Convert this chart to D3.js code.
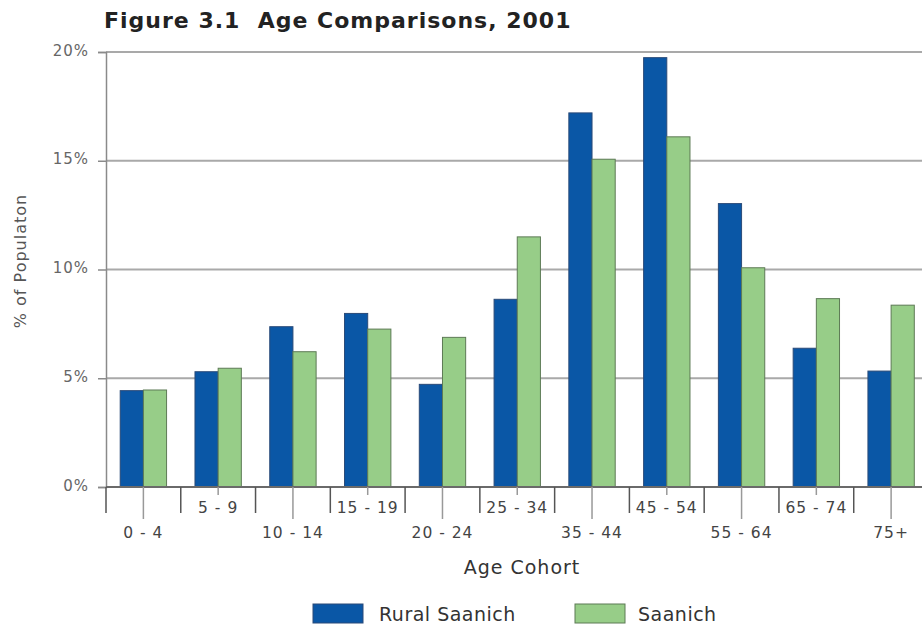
<!DOCTYPE html>
<html>
<head>
<meta charset="utf-8">
<script src="https://cdn.jsdelivr.net/npm/d3@7"></script>
<style>
  html, body { margin: 0; padding: 0; background: #fff; }
  svg { display: block; font-family: "DejaVu Sans", Verdana, sans-serif; }
</style>
</head>
<body>
<svg id="chart" width="922" height="625"></svg>
<script>
// Age cohorts and the share of population (%) in each, 2001
const cohorts = ["0 - 4", "5 - 9", "10 - 14", "15 - 19", "20 - 24", "25 - 34",
                 "35 - 44", "45 - 54", "55 - 64", "65 - 74", "75+"];
const seriesNames = ["Rural Saanich", "Saanich"];
const ruralSaanich = [4.43, 5.30, 7.37, 7.98, 4.72, 8.63, 17.20, 19.74, 13.03, 6.38, 5.33];
const saanich      = [4.46, 5.46, 6.22, 7.26, 6.88, 11.50, 15.07, 16.10, 10.08, 8.66, 8.36];
const yTicks = [0, 5, 10, 15, 20];

const colors = { "Rural Saanich": "#0a57a6", "Saanich": "#97cd88" };

const rows = cohorts.map((c, i) => ({ cohort: c, values: [
  { key: "Rural Saanich", value: ruralSaanich[i] },
  { key: "Saanich", value: saanich[i] }
]}));

const svg = d3.select("#chart");
const plotLeft = 106, plotRight = 928.5, plotTop = 52, plotBottom = 487;

const x = d3.scaleBand().domain(cohorts).range([plotLeft, plotRight]).padding(0);
const bw = x.bandwidth();
const x1 = d3.scaleBand().domain(seriesNames).range([bw * 0.19, bw * 0.81]).padding(0);
const y = d3.scaleLinear().domain([0, 20]).range([plotBottom, plotTop]);

// Title
svg.append("text")
  .attr("x", 104).attr("y", 28)
  .style("white-space", "pre")
  .style("letter-spacing", "1px")
  .attr("font-size", 22).attr("font-weight", "bold").attr("fill", "#222")
  .text("Figure 3.1  Age Comparisons, 2001");

// Horizontal gridlines
svg.append("g").selectAll("line").data(yTicks.filter(d => d > 0)).join("line")
  .attr("x1", plotLeft).attr("x2", 922)
  .attr("y1", d => y(d)).attr("y2", d => y(d))
  .attr("stroke", "#a9a9a9").attr("stroke-width", 2);

// Y axis with percent labels
const yAxis = d3.axisLeft(y).tickValues(yTicks).tickSize(8).tickPadding(9)
  .tickFormat(d => d + "%");
const gy = svg.append("g").attr("transform", `translate(${plotLeft},0)`).call(yAxis);
gy.select(".domain").attr("stroke", "#8a8a8a").attr("stroke-width", 1.5);
gy.selectAll(".tick line").attr("stroke", "#8a8a8a").attr("stroke-width", 1.5);
gy.selectAll(".tick text")
  .attr("font-family", "DejaVu Sans, Verdana, sans-serif")
  .attr("font-size", 15).attr("fill", "#666").attr("dy", "0.2em")
  .style("letter-spacing", "1px");

// Bars
const groups = svg.append("g").selectAll("g").data(rows).join("g")
  .attr("transform", d => `translate(${x(d.cohort)},0)`);
groups.selectAll("rect").data(d => d.values).join("rect")
  .attr("x", d => x1(d.key))
  .attr("width", x1.bandwidth())
  .attr("y", d => y(d.value))
  .attr("height", d => y(0) - y(d.value))
  .attr("fill", d => colors[d.key])
  .attr("stroke", d => d.key === "Saanich" ? "#5d7a55" : "#2a4a78")
  .attr("stroke-width", 1);

// X axis line
svg.append("line")
  .attr("x1", plotLeft).attr("x2", 922).attr("y1", plotBottom).attr("y2", plotBottom)
  .attr("stroke", "#6a6a6a").attr("stroke-width", 2);

// Category boundary ticks
const bounds = cohorts.map(c => x(c)).concat([x(cohorts[cohorts.length - 1]) + bw]);
svg.append("g").selectAll("line").data(bounds).join("line")
  .attr("x1", d => d).attr("x2", d => d)
  .attr("y1", plotBottom).attr("y2", plotBottom + 26)
  .attr("stroke", "#555").attr("stroke-width", 1.5);

// Centre ticks and staggered labels
const cg = svg.append("g").selectAll("g").data(cohorts).join("g")
  .attr("transform", d => `translate(${x(d) + bw / 2},0)`);
cg.append("line")
  .attr("y1", plotBottom).attr("y2", (d, i) => i % 2 === 0 ? plotBottom + 32 : plotBottom + 8)
  .attr("stroke", "#999").attr("stroke-width", 1.5);
cg.append("text")
  .attr("text-anchor", "middle")
  .attr("y", (d, i) => i % 2 === 0 ? 538 : 513)
  .attr("font-size", 15.5).attr("fill", "#444")
  .style("letter-spacing", "1px")
  .text(d => d);

// Axis titles
svg.append("text")
  .attr("x", 522).attr("y", 574).attr("text-anchor", "middle")
  .attr("font-size", 19).attr("fill", "#333")
  .style("letter-spacing", "1px")
  .text("Age Cohort");
svg.append("text")
  .attr("transform", "translate(26,261) rotate(-90)")
  .attr("text-anchor", "middle")
  .attr("font-size", 16).attr("fill", "#555")
  .style("letter-spacing", "1px")
  .text("% of Populaton");

// Legend
const legendItems = [
  { key: "Rural Saanich", rx: 313, tx: 379 },
  { key: "Saanich", rx: 575, tx: 638 }
];
const lg = svg.append("g").selectAll("g").data(legendItems).join("g");
lg.append("rect")
  .attr("x", d => d.rx).attr("y", 604).attr("width", 50).attr("height", 19)
  .attr("fill", d => colors[d.key])
  .attr("stroke", d => d.key === "Saanich" ? "#5d7a55" : "#2a4a78");
lg.append("text")
  .attr("x", d => d.tx).attr("y", 621)
  .attr("font-size", 19).attr("fill", "#333")
  .style("letter-spacing", "0.5px")
  .text(d => d.key);
</script>
</body>
</html>
